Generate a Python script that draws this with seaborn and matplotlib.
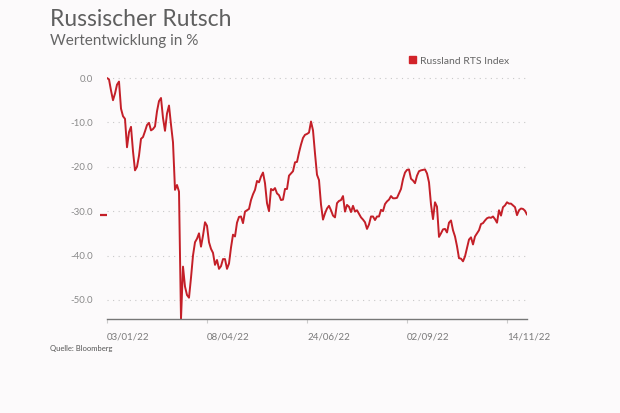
import matplotlib
matplotlib.use("Agg")
import matplotlib.pyplot as plt
from matplotlib.patches import Patch
import numpy as np
import pandas as pd
import seaborn as sns

# ---- data ----
rts_values = [
    0.0, -0.3, -2.8, -5.0, -3.5, -1.5, -0.8, -6.9, -8.6, -9.2,
    -15.6, -12.2, -11.0, -16.5, -20.8, -20.0, -17.5, -13.7, -13.3, -12.0,
    -10.6, -10.1, -11.8, -11.5, -10.9, -7.5, -5.2, -4.5, -9.0, -11.9,
    -8.0, -6.2, -10.5, -14.5, -25.2, -24.1, -25.6, -54.3, -42.5, -47.0,
    -48.9, -49.5, -45.0, -40.0, -37.0, -36.2, -35.0, -38.0, -35.5, -32.5,
    -33.3, -37.0, -38.5, -39.4, -42.1, -41.0, -43.0, -42.4, -40.8, -40.8,
    -43.0, -41.8, -38.2, -35.3, -35.7, -32.6, -31.3, -31.2, -32.7, -30.1,
    -29.8, -29.5, -27.5, -26.2, -25.2, -23.2, -23.5, -22.2, -21.3, -23.7,
    -28.2, -30.0, -25.0, -25.3, -24.8, -26.0, -26.4, -27.5, -27.4, -25.0,
    -25.0, -22.0, -21.5, -21.0, -19.0, -18.9, -16.8, -15.0, -13.5, -12.8,
    -12.6, -12.3, -9.8, -11.8, -17.0, -21.8, -23.0, -28.5, -31.9, -30.5,
    -29.4, -28.8, -29.8, -31.0, -31.4, -28.2, -27.7, -27.5, -26.6, -30.1,
    -28.6, -29.0, -30.2, -28.8, -30.1, -29.8, -30.6, -31.4, -31.9, -32.5,
    -34.0, -33.0, -31.2, -31.2, -32.0, -31.2, -31.2, -29.7, -30.0, -28.4,
    -27.8, -27.4, -26.6, -27.1, -27.1, -27.0, -26.0, -25.0, -22.8, -21.3,
    -20.7, -20.6, -22.7, -23.1, -23.7, -22.0, -21.0, -20.8, -20.7, -20.6,
    -21.5, -23.5, -28.5, -31.8, -28.0, -29.0, -35.8, -35.0, -34.1, -34.0,
    -34.8, -32.6, -32.1, -34.3, -35.7, -37.9, -40.6, -40.7, -41.3, -40.2,
    -38.3, -36.4, -35.9, -37.5, -35.7, -35.0, -34.3, -32.9, -32.7, -32.1,
    -31.6, -31.4, -31.5, -31.2, -31.8, -32.6, -29.8, -31.0, -29.1, -28.7,
    -28.0, -28.3, -28.3, -28.7, -29.1, -30.9, -29.8, -29.4, -29.5, -29.9, -30.8,
]
tick_labels = ["03/01/22", "08/04/22", "24/06/22", "02/09/22", "14/11/22"]
tick_index = [0, 50, 100, 150, 200]
y_ticks = [0, -10, -20, -30, -40, -50]
series_name = "Russland RTS Index"

df = pd.DataFrame({"t": np.arange(len(rts_values)), "v": rts_values})

# ---- style ----
RED = "#c41f28"
BG = "#fcfafb"
sns.set_theme(style="white")
plt.rcParams["font.family"] = ["Lato", "DejaVu Sans"]
plt.rcParams["axes.unicode_minus"] = False

fig = plt.figure(figsize=(6.2, 4.13), dpi=100, facecolor=BG)
ax = fig.add_axes([107 / 620, 1 - 319 / 413, 420 / 620, (319 - 75.8) / 413])
ax.set_facecolor(BG)

sns.lineplot(data=df, x="t", y="v", ax=ax, color=RED, linewidth=1.4, legend=False)

ax.set_xlim(0, len(rts_values) - 1)
ax.set_ylim(-54.3, 0.5)

ax.set_yticks(y_ticks)
ax.set_yticklabels([f"{v:.1f}" for v in y_ticks])
ax.set_yticks([rts_values[-1]], minor=True)
ax.set_yticklabels([""], minor=True)
ax.tick_params(axis="y", which="major", length=0, pad=10, labelsize=7, labelcolor="#8a8a8a")
ax.tick_params(axis="y", which="minor", left=True, length=5, width=1.6, color=RED)

ax.set_xticks(tick_index)
ax.set_xticklabels(tick_labels, ha="left")
ax.tick_params(axis="x", length=3, width=0.8, color="#cccccc", pad=7,
               labelsize=7, labelcolor="#7a7a7a", bottom=True)

ax.grid(axis="y", which="major", linestyle=(0, (1, 4)), color="#c8c8c8", linewidth=0.8)
ax.grid(axis="x", visible=False)
sns.despine(ax=ax, left=True)
ax.spines["bottom"].set_color("#777777")
ax.spines["bottom"].set_linewidth(1.0)
ax.set_xlabel("")
ax.set_ylabel("")

ax.legend(handles=[Patch(facecolor="#d2232a", edgecolor="#d2232a", label=series_name)],
          loc="center left", bbox_to_anchor=(404 / 620, 1 - 61 / 413),
          bbox_transform=fig.transFigure, frameon=False, fontsize=7.5,
          handlelength=0.65, handleheight=0.65, handletextpad=0.4, borderpad=0,
          labelcolor="#666666")

fig.text(50 / 620, 1 - 20 / 413, "Russischer Rutsch", fontsize=16.5, color="#5f5f5f",
         ha="left", va="center")
fig.text(50 / 620, 1 - 41 / 413, "Wertentwicklung in %", fontsize=11, color="#666666",
         ha="left", va="center")
fig.text(50 / 620, 1 - 348 / 413, "Quelle: Bloomberg", fontsize=5.5, color="#555555",
         ha="left", va="center")

fig.savefig("out.png", dpi=100, facecolor=BG)
